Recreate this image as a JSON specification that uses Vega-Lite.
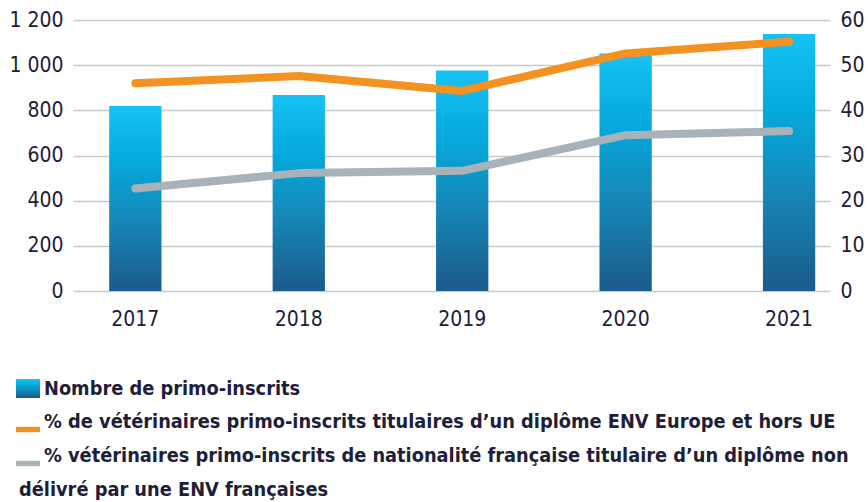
{
  "$schema": "https://vega.github.io/schema/vega-lite/v6.json",
  "width": 757,
  "height": 271,
  "autosize": {"type": "none"},
  "padding": {"left": 73, "top": 20, "right": 38, "bottom": 211},
  "background": "white",
  "config": {
    "view": {"stroke": null},
    "font": "DejaVu Sans Condensed, Liberation Sans, sans-serif",
    "axis": {
      "labelFont": "DejaVu Sans Condensed, Liberation Sans, sans-serif",
      "labelFontSize": 21,
      "labelColor": "#1e2038",
      "domain": false,
      "ticks": false
    }
  },
  "datasets": {
    "barres": [
      {"annee": "2017", "serie": "Nombre de primo-inscrits", "valeur": 819},
      {"annee": "2018", "serie": "Nombre de primo-inscrits", "valeur": 868},
      {"annee": "2019", "serie": "Nombre de primo-inscrits", "valeur": 976},
      {"annee": "2020", "serie": "Nombre de primo-inscrits", "valeur": 1052},
      {"annee": "2021", "serie": "Nombre de primo-inscrits", "valeur": 1138}
    ],
    "lignes": [
      {"annee": "2017", "serie": "% vétérinaires primo-inscrits de nationalité française titulaire d’un diplôme non délivré par une ENV françaises", "valeur": 22.7},
      {"annee": "2018", "serie": "% vétérinaires primo-inscrits de nationalité française titulaire d’un diplôme non délivré par une ENV françaises", "valeur": 26.1},
      {"annee": "2019", "serie": "% vétérinaires primo-inscrits de nationalité française titulaire d’un diplôme non délivré par une ENV françaises", "valeur": 26.6},
      {"annee": "2020", "serie": "% vétérinaires primo-inscrits de nationalité française titulaire d’un diplôme non délivré par une ENV françaises", "valeur": 34.5},
      {"annee": "2021", "serie": "% vétérinaires primo-inscrits de nationalité française titulaire d’un diplôme non délivré par une ENV françaises", "valeur": 35.4},
      {"annee": "2017", "serie": "% de vétérinaires primo-inscrits titulaires d’un diplôme ENV Europe et hors UE", "valeur": 46.0},
      {"annee": "2018", "serie": "% de vétérinaires primo-inscrits titulaires d’un diplôme ENV Europe et hors UE", "valeur": 47.6},
      {"annee": "2019", "serie": "% de vétérinaires primo-inscrits titulaires d’un diplôme ENV Europe et hors UE", "valeur": 44.3},
      {"annee": "2020", "serie": "% de vétérinaires primo-inscrits titulaires d’un diplôme ENV Europe et hors UE", "valeur": 52.6},
      {"annee": "2021", "serie": "% de vétérinaires primo-inscrits titulaires d’un diplôme ENV Europe et hors UE", "valeur": 55.2}
    ]
  },
  "layer": [
    {
      "data": {"name": "barres"},
      "mark": {
        "type": "bar",
        "strokeWidth": 0,
        "fill": {"gradient": "linear", "x1": 0, "y1": 0, "x2": 0, "y2": 1, "stops": [
          {"offset": 0, "color": "#17c2f3"},
          {"offset": 0.3, "color": "#05a9dd"},
          {"offset": 0.6, "color": "#1589ba"},
          {"offset": 1, "color": "#1b5b89"}
        ]}
      },
      "encoding": {
        "x": {
          "field": "annee",
          "type": "nominal",
          "title": null,
          "scale": {"type": "band", "paddingInner": 0.68, "paddingOuter": 0.156, "align": 0.71},
          "axis": {"labelAngle": 0, "labelPadding": 17, "grid": false}
        },
        "y": {
          "field": "valeur",
          "type": "quantitative",
          "title": null,
          "scale": {"domain": [0, 1200], "nice": false},
          "axis": {
            "values": [0, 200, 400, 600, 800, 1000, 1200],
            "grid": true,
            "gridColor": "#c7cacc",
            "gridWidth": 1.6,
            "labelPadding": 10,
            "labelExpr": "replace(format(datum.value, ','), ',', ' ')"
          }
        }
      }
    },
    {
      "data": {"name": "lignes"},
      "mark": {"type": "line", "strokeWidth": 8, "strokeCap": "round", "strokeJoin": "round"},
      "encoding": {
        "x": {"field": "annee", "type": "nominal", "title": null, "bandPosition": 0.5},
        "y": {
          "field": "valeur",
          "type": "quantitative",
          "title": null,
          "scale": {"domain": [0, 60], "nice": false},
          "axis": {
            "orient": "right",
            "values": [0, 10, 20, 30, 40, 50, 60],
            "grid": false,
            "labelPadding": 10
          }
        },
        "stroke": {
          "field": "serie",
          "type": "nominal",
          "scale": {
            "domain": [
              "Nombre de primo-inscrits",
              "% de vétérinaires primo-inscrits titulaires d’un diplôme ENV Europe et hors UE",
              "% vétérinaires primo-inscrits de nationalité française titulaire d’un diplôme non délivré par une ENV françaises",
              "délivré par une ENV françaises"
            ],
            "range": ["#1590c0", "#f39221", "#a8b2b9", "transparent"]
          },
          "legend": {
            "title": null,
            "orient": "none",
            "legendX": -57,
            "legendY": 357,
            "direction": "vertical",
            "columns": 1,
            "labelFont": "DejaVu Sans Condensed, Liberation Sans, sans-serif",
            "labelFontWeight": "bold",
            "labelFontSize": 19.8,
            "labelColor": "#1e2038",
            "labelLimit": 900,
            "labelOffset": {"expr": "datum.index === 3 ? -21 : 4"},
            "rowPadding": 11,
            "symbolSize": 576,
            "symbolStrokeWidth": 0,
            "symbolType": {"expr": "datum.index === 0 ? 'M-1,-0.83H1V0.75H-1Z' : 'M-1,0.4H1V0.85H-1Z'"},
            "symbolFillColor": {"expr": "datum.index === 0 ? {gradient: 'linear', x1: 0, y1: 0, x2: 0, y2: 1, stops: [{offset: 0, color: '#17c2f3'}, {offset: 0.3, color: '#05a9dd'}, {offset: 0.6, color: '#1589ba'}, {offset: 1, color: '#1b5b89'}]} : scale('stroke', datum.value)"},
            "symbolOpacity": {"expr": "datum.index === 3 ? 0 : 1"},
            "labelExpr": "datum.index === 2 ? '% vétérinaires primo-inscrits de nationalité française titulaire d’un diplôme non' : datum.label"
          }
        }
      }
    }
  ],
  "resolve": {"scale": {"y": "independent"}}
}
